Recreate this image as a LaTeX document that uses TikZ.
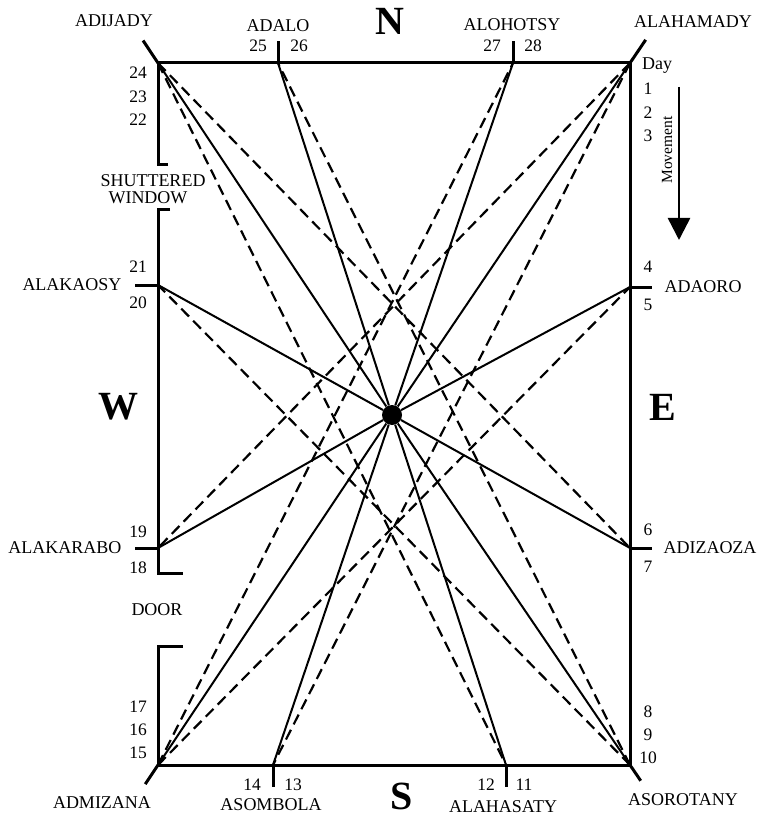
\documentclass[tikz,border=0pt]{standalone}
\usepackage{fontspec}
\setmainfont{Liberation Serif}
\usetikzlibrary{arrows.meta, calc}

\begin{document}
\begin{tikzpicture}[
    x=1pt, y=-1pt,
    wall/.style={line width=3pt},
    ray/.style={line width=2pt},
    cross/.style={line width=2.2pt, dash pattern=on 11pt off 6pt},
    place/.style={font=\fontsize{18}{18}\selectfont, inner sep=0pt},
    num/.style={font=\fontsize{17.5}{18}\selectfont, inner sep=0pt},
    compass/.style={font=\fontsize{40}{40}\selectfont\bfseries, inner sep=0pt},
    hubdot/.style={circle, fill=black, minimum size=20pt, inner sep=0pt}
]
    \useasboundingbox (0,0) rectangle (761,818);

    % the twelve houses
    \coordinate (adijady)   at (158,63);
    \coordinate (adalo)     at (278,63);
    \coordinate (alohotsy)  at (513,63);
    \coordinate (alahamady) at (630,63);
    \coordinate (adaoro)    at (630,287);
    \coordinate (adizaoza)  at (630,548);
    \coordinate (asorotany) at (630,765);
    \coordinate (alahasaty) at (506,765);
    \coordinate (asombola)  at (273,765);
    \coordinate (admizana)  at (158,765);
    \coordinate (alakarabo) at (158,548);
    \coordinate (alakaosy)  at (158,285);
    \node[hubdot] (hub) at (392,415) {};

    % walls, window and door
    \draw[wall] (168,165) -- (158,165) -- (adijady) -- (alahamady) -- (asorotany) -- (admizana) -- (158,646) -- (183,646);
    \draw[wall] (170,210) -- (158,210) -- (158,573) -- (183,573);

    % corner marks and ticks
    \foreach \c/\l in {adijady/27, alahamady/28, admizana/23, asorotany/19}
        \draw[wall] (\c) -- ($(\c)!-\l pt!(hub)$);
    \draw[wall] (adalo) -- ++(0,-22);
    \draw[wall] (alohotsy) -- ++(0,-22);
    \draw[wall] (asombola) -- ++(0,22);
    \draw[wall] (alahasaty) -- ++(0,22);
    \draw[wall] (alakaosy) -- ++(-23,0);
    \draw[wall] (alakarabo) -- ++(-23,0);
    \draw[wall] (adaoro) -- ++(22,0);
    \draw[wall] (adizaoza) -- ++(22,0);

    % lines through the centre
    \foreach \p in {adijady, adalo, alohotsy, alahamady, adaoro, adizaoza,
                    asorotany, alahasaty, asombola, admizana, alakarabo, alakaosy}
        \draw[ray] (hub) -- (\p);

    % crossing lines
    \foreach \a/\b in {adijady/adizaoza, adijady/alahasaty, alahamady/alakarabo, alahamady/asombola,
                       admizana/adaoro, admizana/alohotsy, asorotany/alakaosy, asorotany/adalo}
        \draw[cross] (\a) -- (\b);

    % movement arrow
    \coordinate (movetop) at (679,87);
    \coordinate (movebot) at (679,240);
    \draw[line width=2.5pt, -{Triangle[width=22pt, length=22pt]}] (movetop) -- (movebot);
    \node[place, rotate=90, font=\fontsize{15.5}{15.5}\selectfont] (movement) at (667,150) {Movement};

    % compass
    \node[compass] (north) at (390,21) {N};
    \node[compass] (south) at (402,796) {S};
    \node[compass] (west) at (118,407) {W};
    \node[compass] (east) at (663,407) {E};

    % house names
    \node[place] (nadijady)   at (114,21)  {ADIJADY};
    \node[place] (nadalo)     at (278,26)  {ADALO};
    \node[place] (nalohotsy)  at (512,25)  {ALOHOTSY};
    \node[place] (nalahamady) at (693,22)  {ALAHAMADY};
    \node[place] (nadaoro)    at (703,287) {ADAORO};
    \node[place] (nadizaoza)  at (710,548) {ADIZAOZA};
    \node[place] (nasorotany) at (683,800) {ASOROTANY};
    \node[place] (nalahasaty) at (503,807) {ALAHASATY};
    \node[place] (nasombola)  at (271,805) {ASOMBOLA};
    \node[place] (nadmizana)  at (102,803) {ADMIZANA};
    \node[place] (nalakarabo) at (65,548)  {ALAKARABO};
    \node[place] (nalakaosy)  at (72,285)  {ALAKAOSY};
    \node[place] (shutter)    at (153,181) {SHUTTERED};
    \node[place] (window)     at (148,198) {WINDOW};
    \node[place] (door)       at (157,610) {DOOR};
    \node[place, anchor=base] (day) at (657,70) {Day};

    % days
    \foreach \n/\y in {24/73, 23/97, 22/120, 21/267, 20/303, 19/532, 18/568, 17/707, 16/730, 15/753}
        \node[num] (d\n) at (138,\y) {\n};
    \foreach \n/\y in {1/89, 2/113, 3/136, 4/267, 5/305, 6/530, 7/567, 8/712, 9/735, 10/758}
        \node[num] (d\n) at (648,\y) {\n};
    \foreach \n/\x/\y in {25/258/46, 26/299/46, 27/492/46, 28/533/46, 14/252/785, 13/293/785, 12/486/785, 11/524/785}
        \node[num] (d\n) at (\x,\y) {\n};
\end{tikzpicture}
\end{document}
